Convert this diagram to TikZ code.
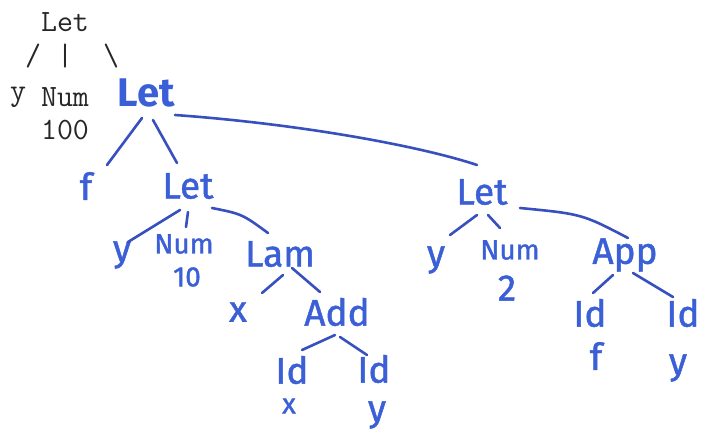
\documentclass[tikz,border=0pt]{standalone}
\usepackage{fontspec}
\setmonofont{Latin Modern Mono}
\newfontfamily\penfont[FakeBold=1.2]{Fira Sans}
\newfontfamily\penboldfont{Fira Sans}
\definecolor{inkblue}{RGB}{58,95,214}
\definecolor{lineblue}{RGB}{55,80,190}
\begin{document}
\begin{tikzpicture}[x=1pt,y=-1pt,
  typed/.style={font=\fontsize{31}{33}\selectfont\ttfamily, inner sep=0pt, text=black!85},
  pen/.style={font=\fontsize{37}{39}\selectfont\penfont, text=inkblue, inner sep=0pt},
  penbig/.style={pen, font=\fontsize{40}{42}\selectfont\penboldfont\bfseries},
  pensmall/.style={pen, font=\fontsize{28}{30}\selectfont\penfont},
  edge/.style={draw=lineblue, line width=2.6pt, line cap=round}]
\useasboundingbox (0,0) rectangle (708,430);
\fill[white] (0,0) rectangle (708,430);

% typed tree header
\node[typed] (tlet) at (65,22) {Let};
\node[typed] (tsl1) at (33,56) {/};
\node[typed] (tsl2) at (65,56) {|};
\node[typed] (tsl3) at (111,56) {\textbackslash};
\node[typed] (ty) at (18,97) {y};
\node[typed] (tnum) at (65,97) {Num};
\node[typed] (t100) at (65,130) {100};

% handwritten tree
\node[penbig] (let1) at (146,93) {Let};
\node[pen] (f1) at (86,186) {f};
\node[pen] (let2) at (188,186) {Let};
\node[pen] (y1) at (122,255) {y};
\node[pensmall] (num1) at (184,244) {Num};
\node[pensmall] (ten) at (187,277) {10};
\node[pen] (lam) at (280,254) {Lam};
\node[pen] (x1) at (238,312) {x};
\node[pen] (add) at (337,312) {Add};
\node[pen] (idx) at (292,370) {Id};
\node[pensmall] (x2) at (289,406) {x};
\node[pen] (idy) at (374,369) {Id};
\node[pen] (y2) at (377,415) {y};
\node[pen] (let3) at (482,192) {Let};
\node[pen] (y3) at (436,260) {y};
\node[pensmall] (num2) at (510,250) {Num};
\node[pen] (two) at (507,288) {2};
\node[pen] (app) at (625,255) {App};
\node[pen] (idf) at (590,313) {Id};
\node[pen] (f2) at (596,356) {f};
\node[pen] (idy2) at (683,313) {Id};
\node[pen] (y4) at (678,368) {y};

% connectors, each running from just below its parent to just above its child
\draw[edge] ([shift={(-4,25)}]let1.center) -- ([shift={(21,-21)}]f1.center);
\draw[edge] ([shift={(7,27)}]let1.center) -- ([shift={(-11,-23)}]let2.center);
\draw[edge] ([shift={(29,22)}]let1.center) .. controls (300,124) and (420,146) .. ([shift={(-5,-27)}]let3.center);
\draw[edge] ([shift={(-8,24)}]let2.center) -- ([shift={(6,-13)}]y1.center);
\draw[edge] ([shift={(0,26)}]let2.center) -- ([shift={(2,-17)}]num1.center);
\draw[edge] ([shift={(24,22)}]let2.center) .. controls (242,214) .. ([shift={(-12,-21)}]lam.center);
\draw[edge] ([shift={(3,21)}]lam.center) -- ([shift={(24,-19)}]x1.center);
\draw[edge] ([shift={(12,14)}]lam.center) -- ([shift={(-17,-20)}]add.center);
\draw[edge] ([shift={(-2,23)}]add.center) -- ([shift={(10,-20)}]idx.center);
\draw[edge] ([shift={(3,25)}]add.center) -- ([shift={(-7,-14)}]idy.center);
\draw[edge] ([shift={(-5,23)}]let3.center) -- ([shift={(14,-25)}]y3.center);
\draw[edge] ([shift={(6,23)}]let3.center) -- ([shift={(-10,-22)}]num2.center);
\draw[edge] ([shift={(38,16)}]let3.center) .. controls (582,214) .. ([shift={(3,-17)}]app.center);
\draw[edge] ([shift={(-12,20)}]app.center) -- ([shift={(3,-20)}]idf.center);
\draw[edge] ([shift={(8,18)}]app.center) -- ([shift={(-10,-16)}]idy2.center);
\end{tikzpicture}
\end{document}
